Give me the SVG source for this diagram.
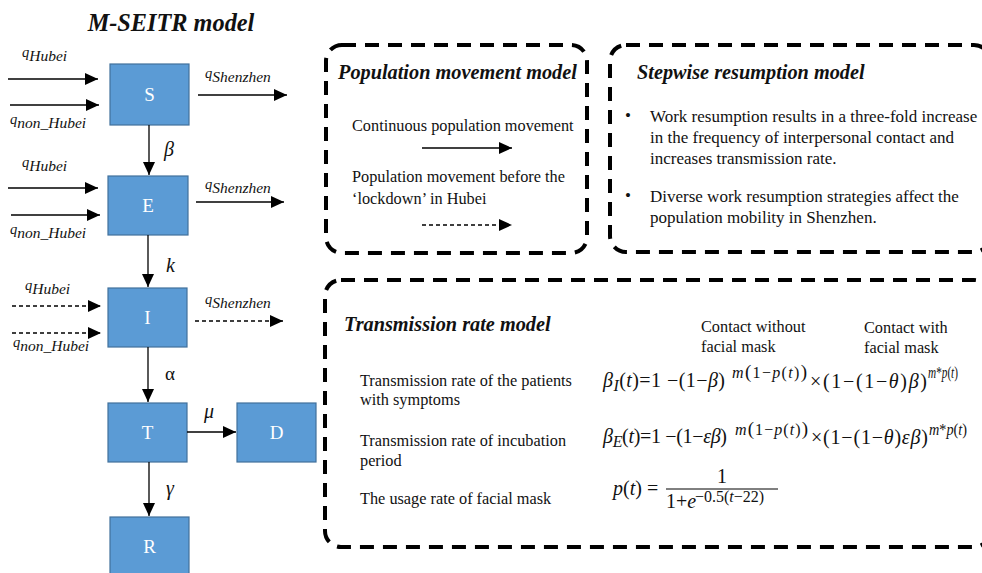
<svg xmlns="http://www.w3.org/2000/svg" width="982" height="573" viewBox="0 0 982 573" font-family="'Liberation Serif','Times New Roman','DejaVu Serif',serif">
<style>
text{font-family:"Liberation Serif","Times New Roman","DejaVu Serif",serif;fill:#111}
.box{fill:#5b9bd5;stroke:#41719c;stroke-width:1.2}
.bl{fill:#fff;font-size:19px;text-anchor:middle}
.ln{stroke:#000;stroke-width:1.3;fill:none}
.dl{stroke:#000;stroke-width:1.3;fill:none;stroke-dasharray:4 3}
.frame{fill:none;stroke:#000;stroke-width:4;stroke-dasharray:14 9}
.hd{font-size:20.3px;font-weight:bold;font-style:italic}
.t{font-size:16.3px}
.s{font-size:17px}
.q{font-size:14.5px;font-style:italic}
.eq{font-size:20px}
.sup{font-size:16px}
.i{font-style:italic}
.gk{font-size:20px;font-style:italic}
</style>
<defs>
<marker id="ah" markerUnits="userSpaceOnUse" markerWidth="14" markerHeight="12" refX="13" refY="6" orient="auto">
<path d="M0,0 L13,6 L0,12 Z" fill="#000"/>
</marker>
</defs>

<text x="171" y="31" text-anchor="middle" style="font-size:24.3px;font-weight:bold;font-style:italic">M-SEITR model</text>

<g id="node-S"><rect class="box" x="110" y="64" width="79" height="61"/><text class="bl" x="149.5" y="101">S</text></g>
<g id="node-E"><rect class="box" x="108" y="176" width="80" height="59"/><text class="bl" x="148" y="212">E</text></g>
<g id="node-I"><rect class="box" x="108" y="288" width="79" height="59"/><text class="bl" x="147.5" y="324">I</text></g>
<g id="node-T"><rect class="box" x="108" y="403" width="79" height="59"/><text class="bl" x="147.5" y="439">T</text></g>
<g id="node-D"><rect class="box" x="237" y="403" width="79" height="59"/><text class="bl" x="276.5" y="439">D</text></g>
<g id="node-R"><rect class="box" x="110" y="517" width="79" height="62"/><text class="bl" x="149.5" y="553">R</text></g>

<g id="connectors">
<line class="ln" x1="8" y1="79" x2="98" y2="79" marker-end="url(#ah)"/>
<line class="ln" x1="10" y1="105" x2="99" y2="105" marker-end="url(#ah)"/>
<line class="ln" x1="198" y1="95" x2="287" y2="95" marker-end="url(#ah)"/>
<line class="ln" x1="149" y1="125" x2="149" y2="175" marker-end="url(#ah)"/>
<line class="ln" x1="8" y1="188" x2="98" y2="188" marker-end="url(#ah)"/>
<line class="ln" x1="11" y1="215" x2="100" y2="215" marker-end="url(#ah)"/>
<line class="ln" x1="196" y1="202" x2="284" y2="202" marker-end="url(#ah)"/>
<line class="ln" x1="148" y1="235" x2="148" y2="287" marker-end="url(#ah)"/>
<line class="dl" x1="12" y1="306" x2="101" y2="306" marker-end="url(#ah)"/>
<line class="dl" x1="12" y1="333" x2="101" y2="333" marker-end="url(#ah)"/>
<line class="dl" x1="195" y1="321" x2="283" y2="321" marker-end="url(#ah)"/>
<line class="ln" x1="148" y1="347" x2="148" y2="402" marker-end="url(#ah)"/>
<line class="ln" x1="187" y1="432" x2="236" y2="432" marker-end="url(#ah)"/>
<line class="ln" x1="149" y1="462" x2="149" y2="516" marker-end="url(#ah)"/>
<line class="ln" x1="422" y1="148" x2="512" y2="148" marker-end="url(#ah)"/>
<line class="dl" x1="422" y1="225" x2="512" y2="225" marker-end="url(#ah)"/>
</g>

<g id="labels">
<text class="q" x="22" y="57">q<tspan dy="4" font-size="15.5">Hubei</tspan></text>
<text class="q" x="10" y="124">q<tspan dy="4" font-size="15.5">non_Hubei</tspan></text>
<text class="q" x="205" y="78">q<tspan dy="4" font-size="15.5">Shenzhen</tspan></text>
<text class="q" x="22" y="167">q<tspan dy="4" font-size="15.5">Hubei</tspan></text>
<text class="q" x="10" y="234">q<tspan dy="4" font-size="15.5">non_Hubei</tspan></text>
<text class="q" x="205" y="189">q<tspan dy="4" font-size="15.5">Shenzhen</tspan></text>
<text class="q" x="25" y="290">q<tspan dy="4" font-size="15.5">Hubei</tspan></text>
<text class="q" x="13" y="347">q<tspan dy="4" font-size="15.5">non_Hubei</tspan></text>
<text class="q" x="205" y="304">q<tspan dy="4" font-size="15.5">Shenzhen</tspan></text>
<text class="gk" x="164" y="156">β</text>
<text class="gk" x="166" y="272">k</text>
<text x="165" y="380" style="font-size:19px">α</text>
<text class="gk" x="204" y="418">μ</text>
<text class="gk" x="166" y="495">γ</text>
</g>

<g id="population-movement-model">
<rect class="frame" x="326" y="45" width="261" height="208" rx="16"/>
<text class="hd" x="338" y="79">Population movement model</text>
<text class="t" x="352" y="131">Continuous population movement</text>
<text class="t" x="352" y="182">Population movement before the</text>
<text class="t" x="352" y="204">‘lockdown’ in Hubei</text>
</g>

<g id="stepwise-resumption-model">
<rect class="frame" x="610" y="45" width="380" height="207" rx="16"/>
<text class="hd" x="637" y="79">Stepwise resumption model</text>
<text class="s" x="625" y="121">•</text>
<text class="s" x="650" y="122">Work resumption results in a three-fold increase</text>
<text class="s" x="650" y="143">in the frequency of interpersonal contact and</text>
<text class="s" x="650" y="164">increases transmission rate.</text>
<text class="s" x="625" y="201">•</text>
<text class="s" x="650" y="202">Diverse work resumption strategies affect the</text>
<text class="s" x="650" y="223">population mobility in Shenzhen.</text>
</g>

<g id="transmission-rate-model">
<rect class="frame" x="325" y="280" width="665" height="267" rx="16"/>
<text class="hd" x="344" y="331">Transmission rate model</text>
<text class="t" x="701" y="332">Contact without</text>
<text class="t" x="701" y="352">facial mask</text>
<text class="t" x="864" y="333">Contact with</text>
<text class="t" x="864" y="353">facial mask</text>
<text class="t" x="360" y="386">Transmission rate of the patients</text>
<text class="t" x="360" y="405">with symptoms</text>
<text class="t" x="360" y="446">Transmission rate of incubation</text>
<text class="t" x="360" y="466">period</text>
<text class="t" x="360" y="504">The usage rate of facial mask</text>

<text class="eq" x="603" y="387" textLength="122" lengthAdjust="spacing"><tspan class="i">β</tspan><tspan class="i" font-size="16" dy="4">I</tspan><tspan dy="-4">(</tspan><tspan class="i">t</tspan>)=1 −(1−<tspan class="i">β</tspan>)</text>
<text class="sup" x="732" y="378" textLength="75" lengthAdjust="spacing"><tspan class="i">m</tspan><tspan font-size="19">(</tspan>1−<tspan class="i">p</tspan>(<tspan class="i">t</tspan>)<tspan font-size="19">)</tspan></text>
<text class="eq" x="810" y="388" textLength="117" lengthAdjust="spacing">×(1−(1−<tspan class="i">θ</tspan>)<tspan class="i">β</tspan>)</text>
<text class="sup" x="928" y="378" textLength="30" lengthAdjust="spacingAndGlyphs"><tspan class="i">m</tspan>*<tspan class="i">p</tspan>(<tspan class="i">t</tspan>)</text>

<text class="eq" x="603" y="443" textLength="124" lengthAdjust="spacing"><tspan class="i">β</tspan><tspan class="i" font-size="16" dy="4">E</tspan><tspan dy="-4">(</tspan><tspan class="i">t</tspan>)=1 −(1−<tspan class="i">εβ</tspan>)</text>
<text class="sup" x="735" y="435" textLength="73" lengthAdjust="spacing"><tspan class="i">m</tspan><tspan font-size="19">(</tspan>1−<tspan class="i">p</tspan>(<tspan class="i">t</tspan>)<tspan font-size="19">)</tspan></text>
<text class="eq" x="811" y="444" textLength="117" lengthAdjust="spacing">×(1−(1−<tspan class="i">θ</tspan>)<tspan class="i">εβ</tspan>)</text>
<text class="sup" x="929" y="435" textLength="38" lengthAdjust="spacingAndGlyphs"><tspan class="i">m</tspan>*<tspan class="i">p</tspan>(<tspan class="i">t</tspan>)</text>

<text class="eq" x="613" y="495"><tspan class="i">p</tspan>(<tspan class="i">t</tspan>) =</text>
<line x1="666" y1="489" x2="778" y2="489" stroke="#000" stroke-width="1"/>
<text class="eq" x="722" y="483" text-anchor="middle">1</text>
<text class="eq" x="666" y="508">1+<tspan class="i">e</tspan></text>
<text class="sup" x="695" y="502">−0.5(<tspan class="i">t</tspan>−22)</text>
</g>
</svg>
